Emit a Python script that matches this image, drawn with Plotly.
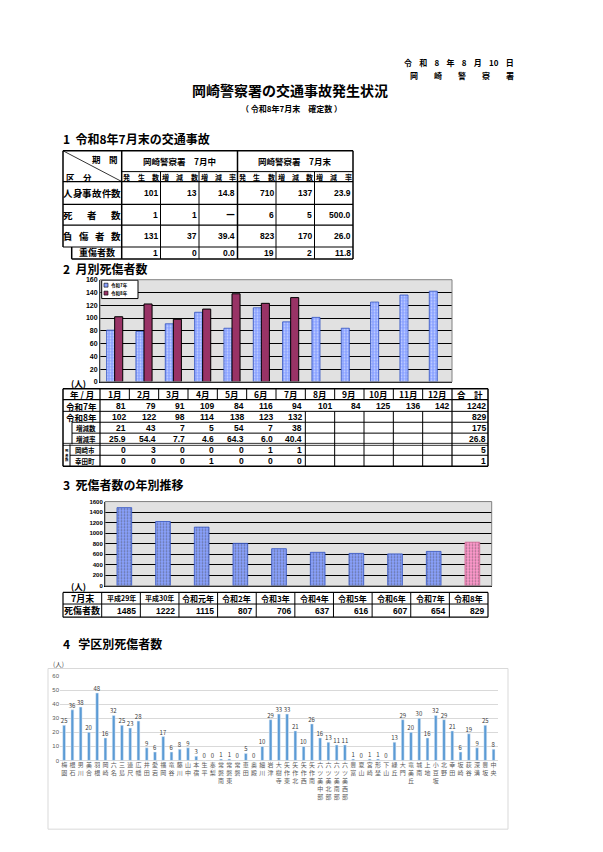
import plotly.graph_objects as go

W, H = 603, 852
JP = 'Noto Sans CJK JP'
NUM = 'Liberation Sans, Arial'

# ---- header / titles
date_text = '令    和    8    年    8    月    10    日'
office_text = '岡　　崎　　警　　察　　署'
main_title = '岡崎警察署の交通事故発生状況'
sub_title = '（ 令和8年7月末　確定数 ）'
sec_titles = ['1  令和8年7月末の交通事故', '2  月別死傷者数', '3  死傷者数の年別推移', '4   学区別死傷者数']

# ---- table 1 : accidents
t1_groups = ['岡崎警察署　7月中', '岡崎警察署　7月末']
t1_cols = ['発生数', '増減数', '増減率']
t1_rows = ['人身事故件数', '死者数', '負傷者数', '重傷者数']
t1_jinshin = ['101', '13', '14.8', '710', '137', '23.9']
t1_shisha = ['1', '1', 'ー', '6', '5', '500.0']
t1_fusho = ['131', '37', '39.4', '823', '170', '26.0']
t1_jusho = ['1', '0', '0.0', '19', '2', '11.8']

# ---- monthly casualties
months = ['1月', '2月', '3月', '4月', '5月', '6月', '7月', '8月', '9月', '10月', '11月', '12月']
r7 = [81, 79, 91, 109, 84, 116, 94, 101, 84, 125, 136, 142]
r8 = [102, 122, 98, 114, 138, 123, 132]
diff = [21, 43, 7, 5, 54, 7, 38]
rate = ['25.9', '54.4', '7.7', '4.6', '64.3', '6.0', '40.4']
dead_okazaki = [0, 3, 0, 0, 0, 1, 1]
dead_kota = [0, 0, 0, 1, 0, 0, 0]
totals = ['1242', '829', '175', '26.8', '5', '1']
series_names = ['令和7年', '令和8年']

# ---- yearly casualties (end of July)
years = ['平成29年', '平成30年', '令和元年', '令和2年', '令和3年', '令和4年', '令和5年', '令和6年', '令和7年', '令和8年']
casualties = [1485, 1222, 1115, 807, 706, 637, 616, 607, 654, 829]

# ---- casualties by school district
districts = ['梅園', '根石', '男川', '美合', '羽根', '岡崎', '六名', '三島', '連尺', '広幡',
             '井田', '愛宕', '福岡', '竜谷', '藤川', '山中', '本宿', '生平', '秦梨', '常磐南',
             '常磐東', '常磐', '恵田', '奥殿', '細川', '岩津', '大樹寺', '矢作東', '矢作北', '矢作西',
             '矢作南', '六ツ美中部', '六ツ美北部', '六ツ美南部', '六ツ美西部', '豊富', '夏山', '宮崎', '形埜', '下山',
             '緑丘', '大門', '竜美丘', '城南', '上地', '小豆坂', '北野', '幸田', '坂崎', '荻谷',
             '深溝', '豊坂', '中央']
district_vals = [25, 36, 38, 20, 48, 16, 32, 25, 23, 28,
                 9, 6, 17, 6, 8, 9, 3, 0, 0, 1,
                 1, 0, 5, 0, 10, 29, 33, 33, 21, 10,
                 26, 16, 13, 11, 11, 1, 0, 1, 1, 0,
                 13, 29, 20, 30, 16, 32, 29, 21, 6, 19,
                 9, 25, 8]

BLUE = '#8aa2ff'
MAROON = '#993366'
PINK = '#ff99cc'

shapes = []
annos = []


def line(x0, y0, x1, y1, w=1.0, color='black'):
    shapes.append(dict(type='line', xref='x4', yref='y4', x0=x0, y0=y0, x1=x1, y1=y1,
                       line=dict(color=color, width=w)))


def text(x, y, s, size=8, anchor='center', family=JP, color='black', weight='bold'):
    annos.append(dict(xref='x4', yref='y4', x=x, y=y, text=s, showarrow=False,
                      xanchor=anchor, yanchor='middle', borderpad=0,
                      font=dict(size=size, family=family, color=color, weight=weight)))


def spread(s, x0, x1, y, size):
    # distribute characters evenly over a cell (Excel style)
    n = len(s)
    step = (x1 - x0 - size) / (n - 1)
    for i, ch in enumerate(s):
        text(x0 + size / 2 + i * step, y, ch, size=size)


# ---- header texts
text(515, 59, date_text, size=8, anchor='right')
text(515, 72, office_text, size=8, anchor='right')
text(290, 87, main_title, size=14)
text(291, 105, sub_title, size=8)
for t, y in zip(sec_titles, [136, 266.5, 484, 645]):
    text(62, y, t, size=12, anchor='left')

# ---- table 1
c1 = [63, 121.7, 160.5, 199, 237.5, 276, 314.5, 353]
r1 = [148, 169, 179, 202, 223, 245, 257]
line(63, r1[0], 353, r1[0], 1.5)
line(71.7, r1[-1], 353, r1[-1], 1.5)
line(63, r1[0], 63, r1[5], 1.5)
line(71.7, r1[5], 71.7, r1[6], 1.5)
line(353, r1[0], 353, r1[-1], 1.5)
line(121.7, r1[0], 121.7, r1[-1], 1.5)
line(237.5, r1[0], 237.5, r1[-1], 1.5)
for x in [160.5, 199, 276, 314.5]:
    line(x, r1[1], x, r1[-1], 1)
line(121.7, r1[1], 353, r1[1], 1)
for y in r1[2:6]:
    line(63, y, 353, y, 1.2)
line(63, r1[0], 121.7, r1[2], 0.8)
text(119, 156, '期　間', size=8.5, anchor='right')
text(65, 174, '区　分', size=8.5, anchor='left')
text((c1[1] + c1[4]) / 2, 158.5, t1_groups[0], size=8.5)
text((c1[4] + c1[7]) / 2, 158.5, t1_groups[1], size=8.5)
for g in range(2):
    for j, name in enumerate(t1_cols):
        spread(name, c1[1 + 3 * g + j] + 1.5, c1[2 + 3 * g + j] - 1.5, 174, 7)
row_data = [t1_jinshin, t1_shisha, t1_fusho, t1_jusho]
for i, (name, vals) in enumerate(zip(t1_rows, row_data)):
    yc = (r1[2 + i] + r1[3 + i]) / 2
    if i == 3:
        text((71.7 + 121.7) / 2, yc, name, size=9)
    else:
        spread(name, 63.5, 121, yc, 9.5)
    for j, v in enumerate(vals):
        text(c1[2 + j] - 1.5, yc, v, size=8.5, anchor='right', family=NUM)

# ---- table 2 (monthly)
cw = 352 / 12
c2 = [63] + [100 + cw * i for i in range(13)] + [488]
r2 = [388, 399, 410.7, 421.7, 432.7, 444, 455, 466]
line(63, r2[0], 488, r2[0], 1.5)
line(63, r2[-1], 488, r2[-1], 1.5)
line(63, r2[0], 63, r2[-1], 1.5)
line(488, r2[0], 488, r2[-1], 1.5)
line(100, r2[0], 100, r2[-1], 1.2)
line(452, r2[0], 452, r2[-1], 1.2)
for x in c2[2:-2]:
    line(x, r2[0], x, r2[1], 1)
for x in c2[8:-2]:
    line(x, r2[2], x, r2[-1], 1)
line(63, r2[1], 488, r2[1], 1.2)
line(63, r2[2], 488, r2[2], 1)
line(72, r2[3], 488, r2[3], 1)
line(72, r2[4], 488, r2[4], 1)
line(63, r2[5] - 1, 488, r2[5] - 1, 0.8)
line(63, r2[5] + 1, 488, r2[5] + 1, 0.8)
line(70, r2[6], 488, r2[6], 1)
line(72, r2[3], 72, r2[5], 1)
line(70, r2[5], 70, r2[7], 1)

text(81.5, 393.5, '年 / 月', size=8.5)
for i, m in enumerate(months):
    text(c2[1 + i] + cw / 2, 393.5, m, size=8.5)
text(470, 393.5, '合　計', size=8.5)
rows2 = [('令和7年', r7, 81.5), ('令和8年', r8, 81.5), ('増減数', diff, 86),
         ('増減率', rate, 86), ('岡崎市', dead_okazaki, 85), ('幸田町', dead_kota, 85)]
for i, (name, vals, xl) in enumerate(rows2):
    yc = (r2[1 + i] + r2[2 + i]) / 2
    text(xl, yc, name, size=8.5 if i < 2 else 6.5)
    for j, v in enumerate(vals):
        text(c2[2 + j] - 2, yc, str(v), size=8.5, anchor='right', family=NUM)
    text(486.5, yc, totals[i], size=8.5, anchor='right', family=NUM)
text(66.5, 455, '死<br>者<br>数', size=3.5)

# ---- table 3 (yearly)
yw = (488 - 101.7) / 10
c3 = [63] + [101.7 + yw * i for i in range(11)]
r3 = [593.3, 605, 618.3]
line(63, r3[0], 488, r3[0], 1.2)
line(63, r3[-1], 488, r3[-1], 1.2)
line(63, r3[1], 488, r3[1], 1)
for x in c3:
    line(x, r3[0], x, r3[-1], 1.2 if x in (63, c3[-1]) else 1)
text(82, 599.2, '7月末', size=9)
text(82, 611.7, '死傷者数', size=9)
for i, (yr, v) in enumerate(zip(years, casualties)):
    text(c3[1 + i] + yw / 2, 599.2, yr, size=7 if yr.startswith('平成') else 8)
    text(c3[2 + i] - 3, 611.7, str(v), size=8.5, anchor='right', family=NUM)

# ---- unit labels
text(78, 382.5, '(人)', size=8.5)
text(78, 586.5, '(人)', size=8.5)
text(58, 665, '(人)', size=6.5, color='#404040', weight='normal')

# ---- legend of chart 2 (small Excel style box)
shapes.append(dict(type='rect', xref='x4', yref='y4', x0=101.7, x1=138, y0=278.5, y1=297,
                   fillcolor='white', line=dict(color='black', width=1)))
for k, (nm, col) in enumerate(zip(series_names, [BLUE, MAROON])):
    yc = 283.5 + 8 * k
    shapes.append(dict(type='rect', xref='x4', yref='y4', x0=104, x1=108, y0=yc - 2, y1=yc + 2,
                       fillcolor=col, line=dict(color='black', width=0.6)))
    text(110, yc, nm, size=4.5, anchor='left')

# ---- chart backgrounds / frames
for ax in ['', '2']:
    shapes.append(dict(type='rect', xref=f'x{ax} domain', yref=f'y{ax} domain', x0=0, x1=1, y0=0, y1=1,
                       fillcolor='#e1e1e1', line=dict(width=0), layer='below'))
    shapes.append(dict(type='rect', xref=f'x{ax} domain', yref=f'y{ax} domain', x0=0, x1=1, y0=0, y1=1,
                       line=dict(color='#808080', width=1)))
shapes.append(dict(type='rect', xref='x4', yref='y4', x0=48, x1=508, y0=670, y1=832,
                   line=dict(color='#d9d9d9', width=1)))

blue_pat = dict(shape='.', fgcolor='white', size=3, solidity=0.3)

fig = go.Figure()
fig.add_trace(go.Bar(x=months, y=r7, name=series_names[0], xaxis='x', yaxis='y', showlegend=False,
                     marker=dict(color=BLUE, pattern=blue_pat, line=dict(color='#3050c0', width=0.8))))
fig.add_trace(go.Bar(x=months[:len(r8)], y=r8, name=series_names[1], xaxis='x', yaxis='y', showlegend=False,
                     marker=dict(color=MAROON, line=dict(color='black', width=1))))
fig.add_trace(go.Bar(x=years, y=casualties, xaxis='x2', yaxis='y2', width=0.38, showlegend=False,
                     marker=dict(color=[BLUE] * (len(years) - 1) + [PINK], pattern=blue_pat,
                                 line=dict(color=['#3050c0'] * (len(years) - 1) + ['#d06090'], width=0.8))))
fig.add_trace(go.Bar(x=['<br>'.join(d) for d in districts], y=district_vals, xaxis='x3', yaxis='y3',
                     width=0.34, showlegend=False, marker=dict(color='#5b9bd5'),
                     text=district_vals, textposition='outside', constraintext='none', cliponaxis=False,
                     textfont=dict(size=6, family=JP, color='#404040')))

fig.update_layout(
    width=W, height=H, margin=dict(l=0, r=0, t=0, b=0),
    paper_bgcolor='white', plot_bgcolor='rgba(0,0,0,0)',
    barmode='group', bargap=0.45, bargroupgap=0,
    font=dict(family=JP, color='black'),
    shapes=shapes, annotations=annos, showlegend=False,
    xaxis=dict(domain=[100 / W, 452 / W], anchor='y', showticklabels=False, ticks='',
               showline=True, linecolor='black', fixedrange=True),
    yaxis=dict(domain=[1 - 381 / H, 1 - 278 / H], anchor='x', range=[0, 160], dtick=20,
               gridcolor='black', gridwidth=1, showline=True, linecolor='black', zeroline=False,
               tickfont=dict(size=7, family=NUM, weight='bold'), fixedrange=True),
    xaxis2=dict(domain=[105 / W, 491.7 / W], anchor='y2', showticklabels=False, ticks='',
                showline=True, linecolor='black', fixedrange=True),
    yaxis2=dict(domain=[1 - 586.7 / H, 1 - 501.7 / H], anchor='x2', range=[0, 1600], dtick=200,
                gridcolor='black', gridwidth=1, showline=True, linecolor='black', zeroline=False,
                tickfont=dict(size=6, family=NUM, weight='bold'), fixedrange=True),
    xaxis3=dict(domain=[60 / W, 497.7 / W], anchor='y3', ticks='', showline=False,
                tickangle=0, tickfont=dict(size=6, family=JP, color='#595959'), fixedrange=True),
    yaxis3=dict(domain=[1 - 762.7 / H, 1 - 677.7 / H], anchor='x3', range=[0, 60], dtick=10,
                gridcolor='#d9d9d9', zeroline=True, zerolinecolor='#d9d9d9', zerolinewidth=1,
                tickfont=dict(size=6, family=NUM, color='#595959'), fixedrange=True),
    xaxis4=dict(domain=[0, 1], anchor='y4', range=[0, W], visible=False, fixedrange=True),
    yaxis4=dict(domain=[0, 1], anchor='x4', range=[H, 0], visible=False, fixedrange=True),
)

fig.write_html('out.html', config={'displayModeBar': False},
               post_script="document.body.style.margin='0';")
